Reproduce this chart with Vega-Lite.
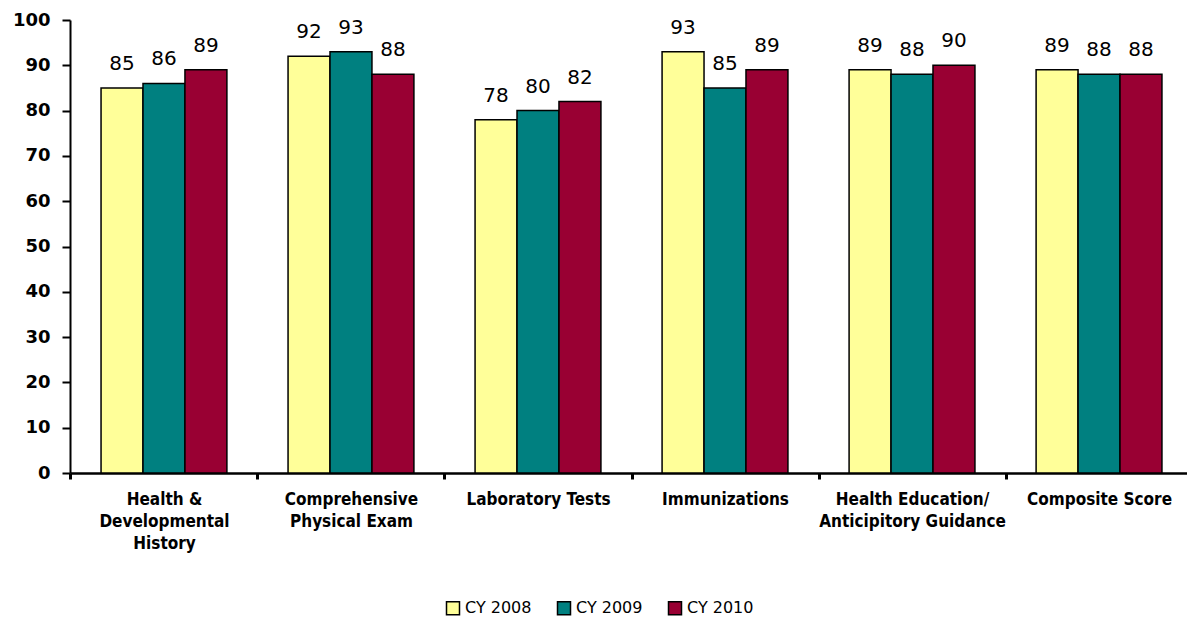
{
  "$schema": "https://vega.github.io/schema/vega-lite/v6.json",
  "width": 1123,
  "height": 453,
  "autosize": {"type": "none"},
  "padding": {"left": 70, "top": 20, "right": 0, "bottom": 145},
  "background": "white",
  "config": {
    "view": {"stroke": null},
    "font": "DejaVu Sans"
  },
  "data": {
    "values": [
      {"measure": "Health &|Developmental|History", "year": "CY 2008", "value": 85},
      {"measure": "Health &|Developmental|History", "year": "CY 2009", "value": 86},
      {"measure": "Health &|Developmental|History", "year": "CY 2010", "value": 89},
      {"measure": "Comprehensive|Physical Exam", "year": "CY 2008", "value": 92},
      {"measure": "Comprehensive|Physical Exam", "year": "CY 2009", "value": 93},
      {"measure": "Comprehensive|Physical Exam", "year": "CY 2010", "value": 88},
      {"measure": "Laboratory Tests", "year": "CY 2008", "value": 78},
      {"measure": "Laboratory Tests", "year": "CY 2009", "value": 80},
      {"measure": "Laboratory Tests", "year": "CY 2010", "value": 82},
      {"measure": "Immunizations", "year": "CY 2008", "value": 93},
      {"measure": "Immunizations", "year": "CY 2009", "value": 85},
      {"measure": "Immunizations", "year": "CY 2010", "value": 89},
      {"measure": "Health Education/|Anticipitory Guidance", "year": "CY 2008", "value": 89},
      {"measure": "Health Education/|Anticipitory Guidance", "year": "CY 2009", "value": 88},
      {"measure": "Health Education/|Anticipitory Guidance", "year": "CY 2010", "value": 90},
      {"measure": "Composite Score", "year": "CY 2008", "value": 89},
      {"measure": "Composite Score", "year": "CY 2009", "value": 88},
      {"measure": "Composite Score", "year": "CY 2010", "value": 88}
    ]
  },
  "encoding": {
    "x": {
      "field": "measure",
      "type": "nominal",
      "sort": null,
      "scale": {"paddingInner": 0.327, "paddingOuter": 0.166},
      "axis": {
        "title": null,
        "labelAngle": 0,
        "labelExpr": "split(datum.label, '|')",
        "labelFont": "DejaVu Sans Condensed",
        "labelFontWeight": "bold",
        "labelFontSize": 17,
        "labelColor": "black",
        "labelLineHeight": 22,
        "labelPadding": 12,
        "labelLimit": 300,
        "domainColor": "black",
        "domainWidth": 2.5,
        "tickColor": "black",
        "tickWidth": 3,
        "tickSize": 6,
        "tickOffset": -93.5,
        "labelOffset": 93.5
      }
    },
    "xOffset": {"field": "year", "type": "nominal", "scale": {"domain": ["CY 2008", "CY 2009", "CY 2010"]}},
    "y": {
      "field": "value",
      "type": "quantitative",
      "scale": {"domain": [0, 100], "nice": false},
      "axis": {
        "title": null,
        "values": [0, 10, 20, 30, 40, 50, 60, 70, 80, 90, 100],
        "grid": false,
        "labelFont": "DejaVu Sans",
        "labelFontWeight": "bold",
        "labelFontSize": 18,
        "labelColor": "black",
        "labelPadding": 12,
        "domainColor": "black",
        "domainWidth": 2,
        "tickColor": "black",
        "tickWidth": 2,
        "tickSize": 8
      }
    }
  },
  "layer": [
    {
      "mark": {"type": "bar", "stroke": "black", "strokeWidth": 1.5},
      "encoding": {
        "color": {
          "field": "year",
          "type": "nominal",
          "scale": {"domain": ["CY 2008", "CY 2009", "CY 2010"], "range": ["#FFFF99", "#008080", "#990033"]},
          "legend": {
            "title": null,
            "orient": "none",
            "legendX": 375,
            "legendY": 580,
            "direction": "horizontal",
            "symbolType": "square",
            "symbolSize": 169,
            "symbolStrokeColor": "black",
            "symbolStrokeWidth": 1.5,
            "labelFont": "DejaVu Sans",
            "labelFontSize": 16,
            "labelColor": "black",
            "columnPadding": 22,
            "labelOffset": 4
          }
        }
      }
    },
    {
      "mark": {"type": "text", "dy": -24, "fontSize": 20, "font": "DejaVu Sans", "color": "black"},
      "encoding": {"text": {"field": "value", "type": "quantitative"}}
    }
  ]
}
